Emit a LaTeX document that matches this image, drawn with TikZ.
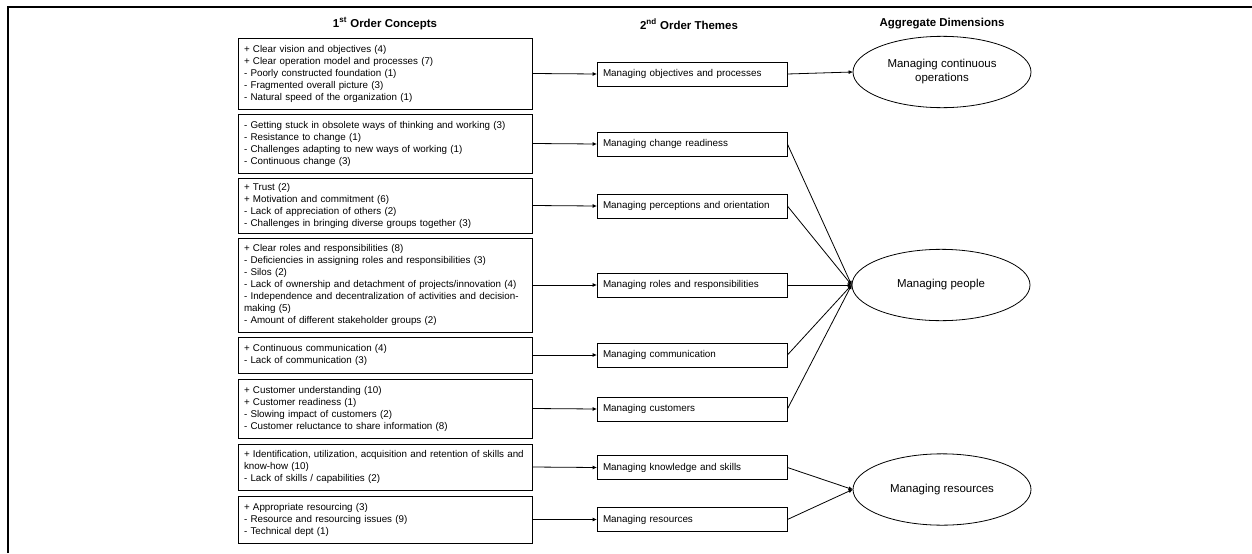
\documentclass[tikz,border=0pt]{standalone}
\usepackage{fontspec}
\setmainfont{Liberation Sans}
\usetikzlibrary{
    positioning,
    arrows.meta,
    shapes.geometric
}

\tikzset{
    concept/.style={draw, line width=0.6pt, align=left, text width=211.5pt,
        inner xsep=4.5pt, inner ysep=0pt, font=\fontsize{7.35}{9}\selectfont},
    theme/.style={draw, line width=0.6pt, align=left, text width=133.5pt,
        inner xsep=4.5pt, inner ysep=0pt, minimum height=18pt,
        font=\fontsize{7.4}{9}\selectfont},
    dimension/.style={draw, ellipse, line width=0.6pt, align=center,
        minimum width=133.5pt, minimum height=53.5pt, inner sep=0pt,
        font=\fontsize{8.6}{10.5}\selectfont},
    header/.style={font=\fontsize{8.6}{10}\selectfont\bfseries},
    link/.style={line width=0.6pt, -{Triangle[length=3pt,width=2.6pt]}}
}

\begin{document}
\begin{tikzpicture}[x=0.75pt, y=-0.75pt]
    \useasboundingbox (0,0) rectangle (1252,553);

    % Frame
    \draw[line width=1.5pt] (7.5,553) -- (7.5,7) -- (1252,7);

    % Headers
    \node[header] (h1) at (385,24) {1\textsuperscript{st} Order Concepts};
    \node[header] (h2) at (689,24) {2\textsuperscript{nd} Order Themes};
    \node[header] (h3) at (942,24) {Aggregate Dimensions};

    % 1st order concepts
    \node[concept, minimum height=53.25pt] (c1) at (385,73.5) {+ Clear vision and objectives (4)\\
        + Clear operation model and processes (7)\\
        - Poorly constructed foundation (1)\\
        - Fragmented overall picture (3)\\
        - Natural speed of the organization (1)};
    \node[concept, minimum height=44.25pt] (c2) at (385,143.5) {- Getting stuck in obsolete ways of thinking and working (3)\\
        - Resistance to change (1)\\
        - Challenges adapting to new ways of working (1)\\
        - Continuous change (3)};
    \node[concept, minimum height=41.25pt] (c3) at (385,205.5) {+ Trust (2)\\
        + Motivation and commitment (6)\\
        - Lack of appreciation of others (2)\\
        - Challenges in bringing diverse groups together (3)};
    \node[concept, minimum height=70.5pt] (c4) at (385,285) {+ Clear roles and responsibilities (8)\\
        - Deficiencies in assigning roles and responsibilities (3)\\
        - Silos (2)\\
        - Lack of ownership and detachment of projects/innovation (4)\\
        - Independence and decentralization of activities and decision-\\
        making (5)\\
        - Amount of different stakeholder groups (2)};
    \node[concept, minimum height=27pt] (c5) at (385,355) {+ Continuous communication (4)\\
        - Lack of communication (3)};
    \node[concept, minimum height=44.25pt] (c6) at (385,408.5) {+ Customer understanding (10)\\
        + Customer readiness (1)\\
        - Slowing impact of customers (2)\\
        - Customer reluctance to share information (8)};
    \node[concept, minimum height=34.5pt] (c7) at (385,467) {+ Identification, utilization, acquisition and retention of skills and\\
        know-how (10)\\
        - Lack of skills / capabilities (2)};
    \node[concept, minimum height=35.25pt] (c8) at (385,519.5) {+ Appropriate resourcing (3)\\
        - Resource and resourcing issues (9)\\
        - Technical dept (1)};

    % 2nd order themes
    \node[theme] (t1) at (692,74) {Managing objectives and processes};
    \node[theme] (t2) at (692,144) {Managing change readiness};
    \node[theme] (t3) at (692,206) {Managing perceptions and orientation};
    \node[theme] (t4) at (692,285) {Managing roles and responsibilities};
    \node[theme] (t5) at (692,355) {Managing communication};
    \node[theme] (t6) at (692,409) {Managing customers};
    \node[theme] (t7) at (692,467.5) {Managing knowledge and skills};
    \node[theme] (t8) at (692,519.5) {Managing resources};

    % Aggregate dimensions
    \node[dimension] (ops) at (942,72) {Managing continuous\\operations};
    \node[dimension] (people) at (941,285) {Managing people};
    \node[dimension] (res) at (942,489.5) {Managing resources};

    % Concepts to themes
    \foreach \i in {1,...,8}
        \draw[link] (c\i.east) -- (t\i.west);

    % Themes to dimensions
    \draw[link] (t1.east) -- (ops.west);
    \foreach \i in {2,...,6}
        \draw[link] (t\i.east) -- (people.west);
    \draw[link] (t7.east) -- (res.west);
    \draw[link] (t8.east) -- (res.west);
\end{tikzpicture}
\end{document}
